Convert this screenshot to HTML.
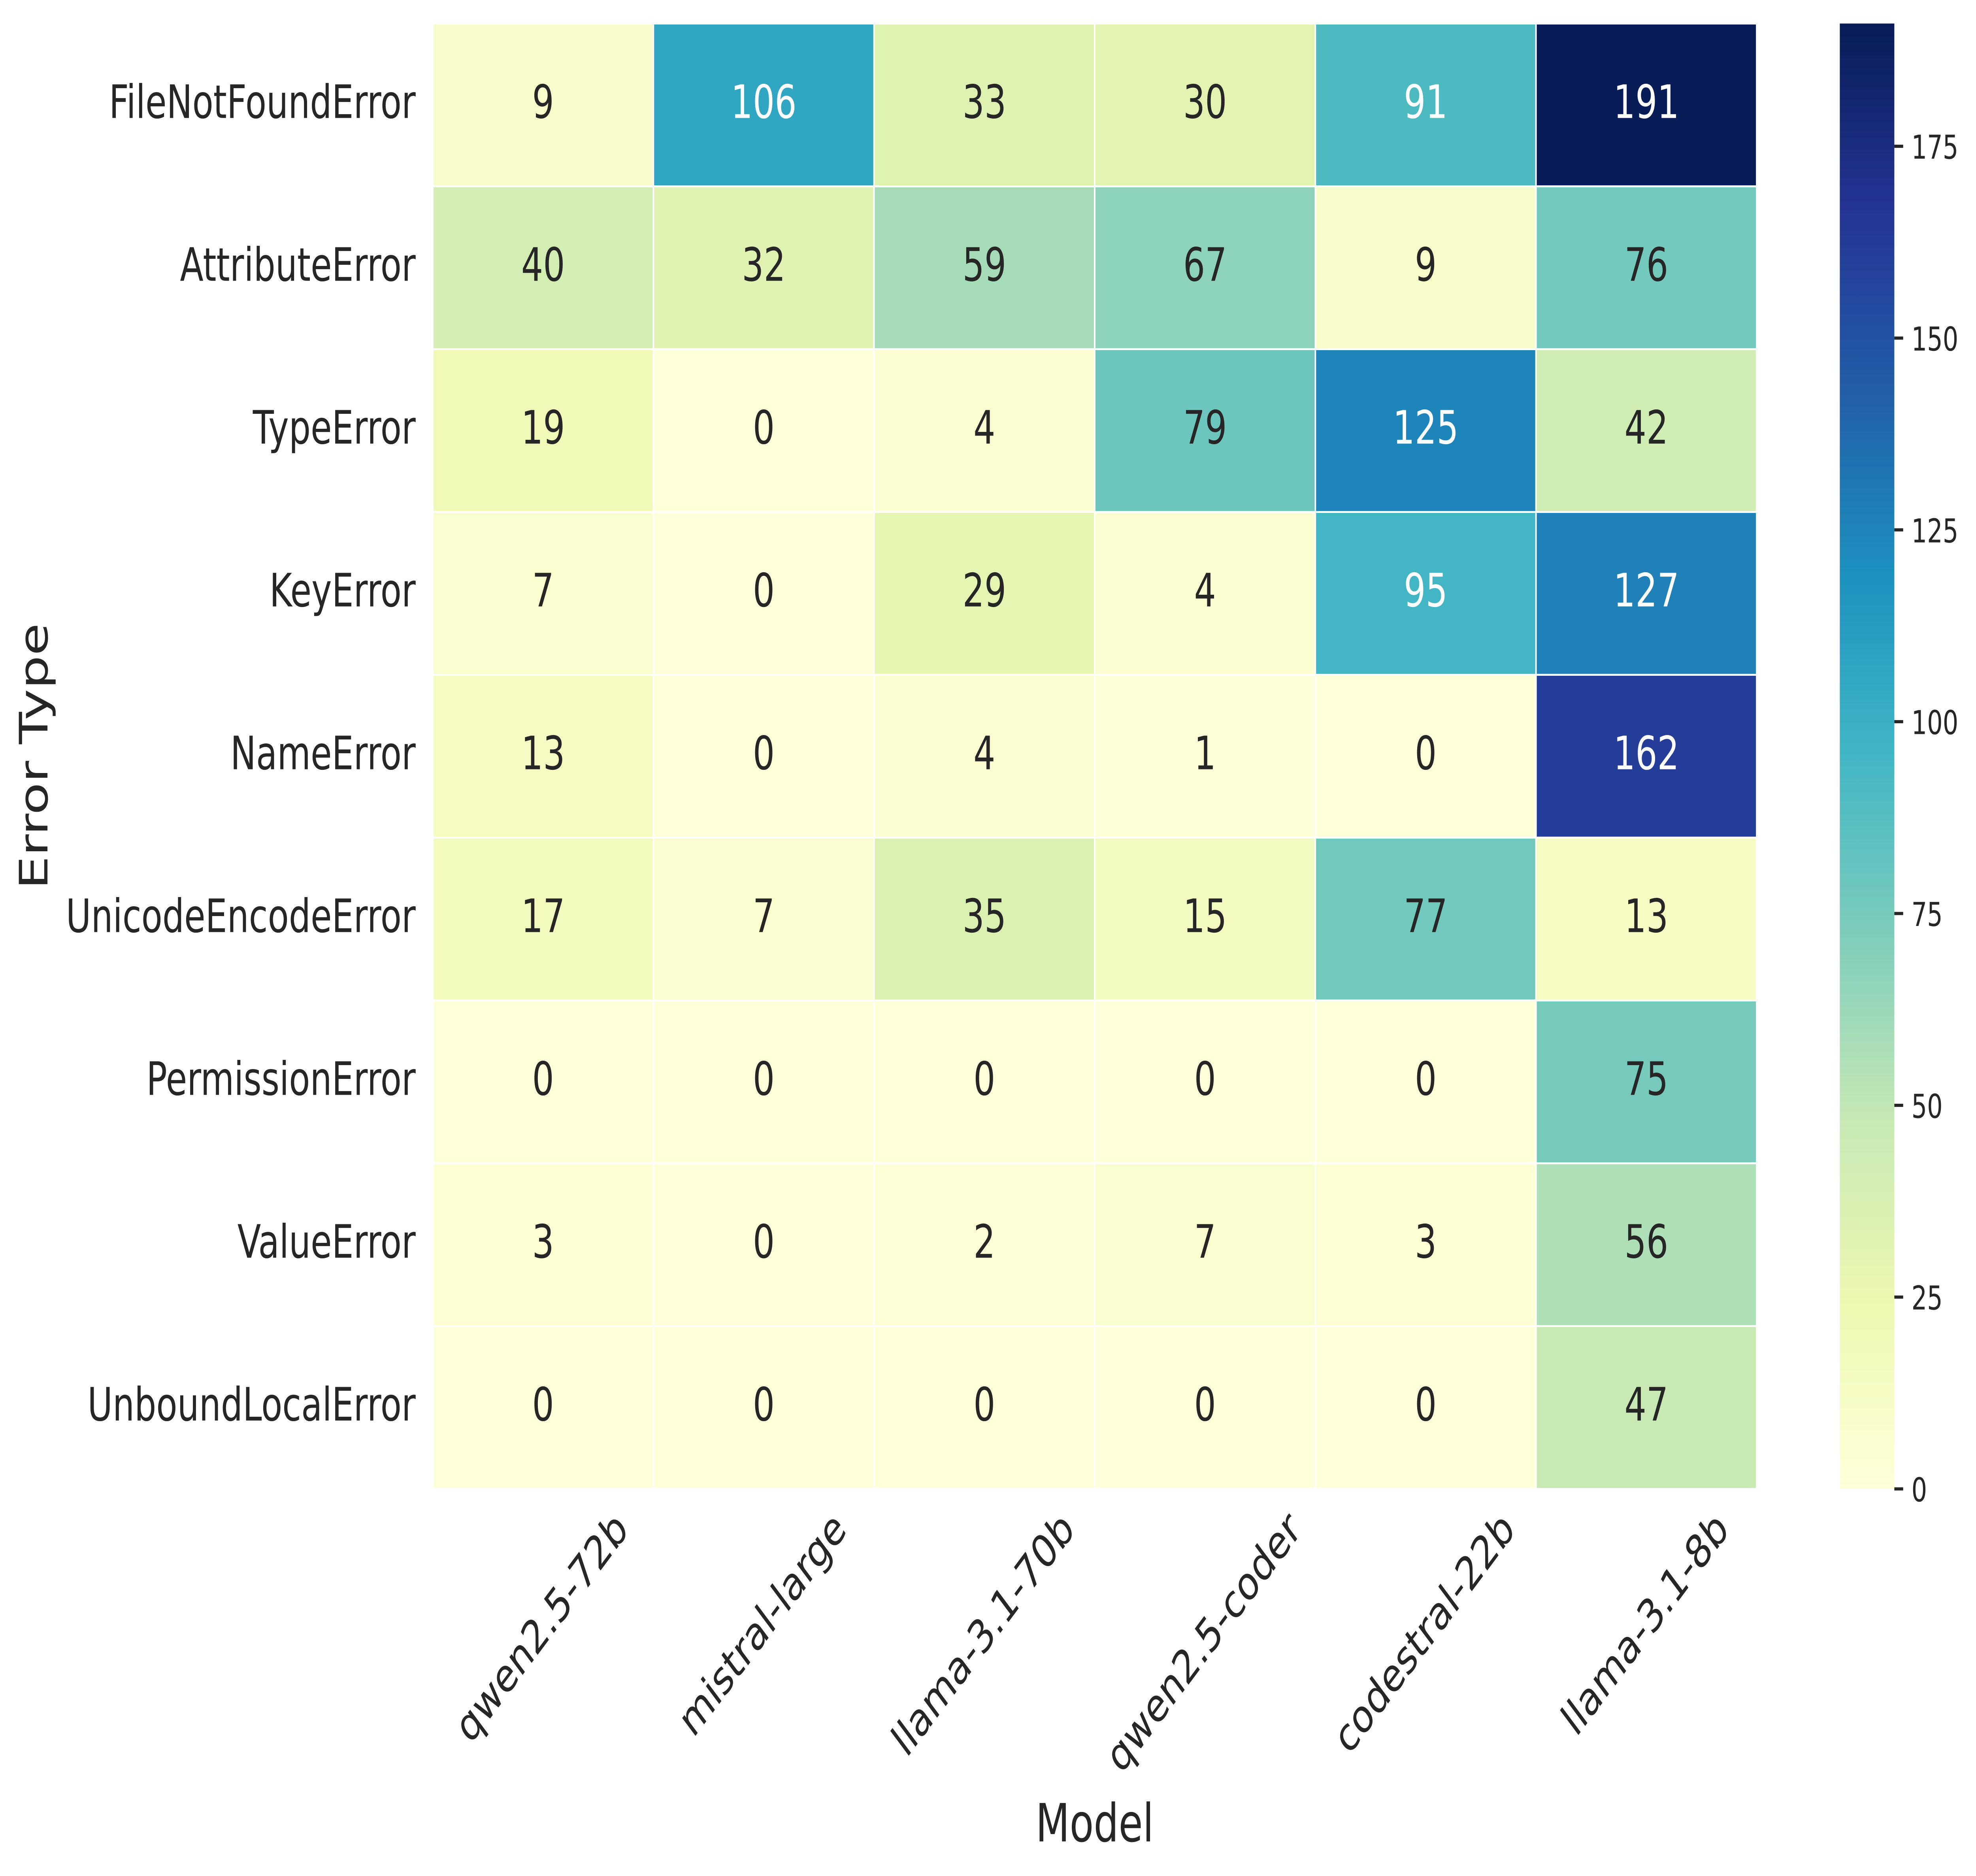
<!DOCTYPE html>
<html lang="en">
<head>
<meta charset="utf-8">
<title>Error Type by Model Heatmap</title>
<style>
  html, body { margin: 0; padding: 0; background: #ffffff; width: 100%; height: 100%; overflow: hidden; }
  svg { display: block; width: 100vw; height: 100vh; }
  text { font-family: "DejaVu Sans", "Liberation Sans", sans-serif; fill: #262626; text-rendering: geometricPrecision; }
</style>
</head>
<body>
<svg id="chart" xmlns="http://www.w3.org/2000/svg" viewBox="0 0 6703 4747" preserveAspectRatio="none">
  <defs>
    <linearGradient id="cbar-gradient" x1="0" y1="1" x2="0" y2="0"></linearGradient>
  </defs>
  <rect x="0" y="0" width="6703" height="4747" fill="#ffffff"></rect>
  <g id="cells"></g>
  <g id="annotations"></g>
  <g id="y-labels"></g>
  <g id="x-labels"></g>
  <rect id="cbar" fill="url(#cbar-gradient)"></rect>
  <g id="cbar-ticks"></g>
  <text x="3713.5" y="4659.5" font-size="133.33" text-anchor="middle">Model</text>
  <text transform="translate(161 1913.5) rotate(-90)" font-size="133.33" text-anchor="middle">Error Type</text>
</svg>
<script>
const models = ["qwen2.5-72b", "mistral-large", "llama-3.1-70b", "qwen2.5-coder", "codestral-22b", "llama-3.1-8b"];
const errorTypes = ["FileNotFoundError", "AttributeError", "TypeError", "KeyError", "NameError", "UnicodeEncodeError", "PermissionError", "ValueError", "UnboundLocalError"];
const fileNotFoundError = [9, 106, 33, 30, 91, 191];
const attributeError = [40, 32, 59, 67, 9, 76];
const typeError = [19, 0, 4, 79, 125, 42];
const keyError = [7, 0, 29, 4, 95, 127];
const nameError = [13, 0, 4, 1, 0, 162];
const unicodeEncodeError = [17, 7, 35, 15, 77, 13];
const permissionError = [0, 0, 0, 0, 0, 75];
const valueError = [3, 0, 2, 7, 3, 56];
const unboundLocalError = [0, 0, 0, 0, 0, 47];
const colorbarTicks = [0, 25, 50, 75, 100, 125, 150, 175];
const ylGnBu = ["#ffffd9", "#edf8b1", "#c7e9b4", "#7fcdbb", "#41b6c4", "#1d91c0", "#225ea8", "#253494", "#081d58"];

const matrix = [fileNotFoundError, attributeError, typeError, keyError, nameError, unicodeEncodeError, permissionError, valueError, unboundLocalError];

const SVG_NS = "http://www.w3.org/2000/svg";
const plot = { left: 1468, right: 5959, top: 59.5, bottom: 3767.5 };
const bar = { left: 6241, right: 6426 };
const annotFont = 116.67;
const tickFont = 116.67;
const cbarFont = 83.33;
const baselineShift = 33;

const valueMax = Math.max(...matrix.map(function (row) { return Math.max(...row); }));
const valueMin = Math.min(0, ...matrix.map(function (row) { return Math.min(...row); }));

function xBand(i) { return plot.left + (plot.right - plot.left) * i / models.length; }
function yBand(j) { return plot.top + (plot.bottom - plot.top) * j / errorTypes.length; }
function yBar(v) { return plot.bottom - (plot.bottom - plot.top) * (v - valueMin) / (valueMax - valueMin); }

function hexToRgb(h) {
  return [parseInt(h.slice(1, 3), 16), parseInt(h.slice(3, 5), 16), parseInt(h.slice(5, 7), 16)];
}
function colorFor(v) {
  const t = (v - valueMin) / (valueMax - valueMin);
  const p = Math.min(Math.max(t, 0), 1) * (ylGnBu.length - 1);
  const k = Math.min(Math.floor(p), ylGnBu.length - 2);
  const a = hexToRgb(ylGnBu[k]);
  const b = hexToRgb(ylGnBu[k + 1]);
  const f = p - k;
  return [0, 1, 2].map(function (c) { return a[c] + (b[c] - a[c]) * f; });
}
function luminance(rgb) {
  const lin = rgb.map(function (c) {
    const s = c / 255;
    return s <= 0.03928 ? s / 12.92 : Math.pow((s + 0.055) / 1.055, 2.4);
  });
  return 0.2126 * lin[0] + 0.7152 * lin[1] + 0.0722 * lin[2];
}
function css(rgb) { return "rgb(" + rgb.map(Math.round).join(",") + ")"; }

const cellsGroup = document.getElementById("cells");
const annotGroup = document.getElementById("annotations");
const yGroup = document.getElementById("y-labels");
const xGroup = document.getElementById("x-labels");
const tickGroup = document.getElementById("cbar-ticks");
const gradient = document.getElementById("cbar-gradient");

matrix.forEach(function (row, j) {
  row.forEach(function (value, i) {
    const rgb = colorFor(value);
    const rect = document.createElementNS(SVG_NS, "rect");
    rect.setAttribute("x", xBand(i));
    rect.setAttribute("y", yBand(j));
    rect.setAttribute("width", xBand(i + 1) - xBand(i));
    rect.setAttribute("height", yBand(j + 1) - yBand(j));
    rect.setAttribute("fill", css(rgb));
    rect.setAttribute("stroke", "#ffffff");
    rect.setAttribute("stroke-width", "5");
    
    
    cellsGroup.appendChild(rect);

    const label = document.createElementNS(SVG_NS, "text");
    label.setAttribute("x", (xBand(i) + xBand(i + 1)) / 2);
    label.setAttribute("y", (yBand(j) + yBand(j + 1)) / 2 + baselineShift);
    label.setAttribute("font-size", annotFont);
    label.setAttribute("text-anchor", "middle");
    label.setAttribute("style", "fill:" + (luminance(rgb) < 0.408 ? "#ffffff" : "#262626"));
    
    
    label.textContent = String(value);
    annotGroup.appendChild(label);
  });
});

errorTypes.forEach(function (name, j) {
  const label = document.createElementNS(SVG_NS, "text");
  label.setAttribute("x", 1410);
  label.setAttribute("y", (yBand(j) + yBand(j + 1)) / 2 + baselineShift);
  label.setAttribute("font-size", tickFont);
  label.setAttribute("text-anchor", "end");
  
  
  label.textContent = name;
  yGroup.appendChild(label);
});

models.forEach(function (name, i) {
  const label = document.createElementNS(SVG_NS, "text");
  label.setAttribute("font-size", tickFont);
  label.setAttribute("text-anchor", "middle");
  
  
  label.textContent = name;
  xGroup.appendChild(label);
  const w = label.getComputedTextLength();
  const boxHeight = tickFont;
  const cx = (xBand(i) + xBand(i + 1)) / 2;
  const cy = plot.bottom + 43 + (w + boxHeight) * Math.SQRT1_2 / 2;
  label.setAttribute("x", 0);
  label.setAttribute("y", baselineShift);
  label.setAttribute("transform", "translate(" + cx + " " + cy + ") rotate(-45)");
});

ylGnBu.forEach(function (hex, k) {
  const stop = document.createElementNS(SVG_NS, "stop");
  stop.setAttribute("offset", k / (ylGnBu.length - 1));
  stop.setAttribute("stop-color", hex);
  gradient.appendChild(stop);
});

const cbar = document.getElementById("cbar");
cbar.setAttribute("x", bar.left);
cbar.setAttribute("y", plot.top);
cbar.setAttribute("width", bar.right - bar.left);
cbar.setAttribute("height", plot.bottom - plot.top);

colorbarTicks.forEach(function (value) {
  const tick = document.createElementNS(SVG_NS, "line");
  tick.setAttribute("x1", bar.right);
  tick.setAttribute("x2", bar.right + 30);
  tick.setAttribute("y1", yBar(value));
  tick.setAttribute("y2", yBar(value));
  tick.setAttribute("stroke", "#262626");
  tick.setAttribute("stroke-width", "8");
  
  
  tickGroup.appendChild(tick);

  const label = document.createElementNS(SVG_NS, "text");
  label.setAttribute("x", 6484);
  label.setAttribute("y", yBar(value) + 31.5);
  label.setAttribute("font-size", cbarFont);
  
  
  label.textContent = String(value);
  tickGroup.appendChild(label);
});
</script>
</body>
</html>
